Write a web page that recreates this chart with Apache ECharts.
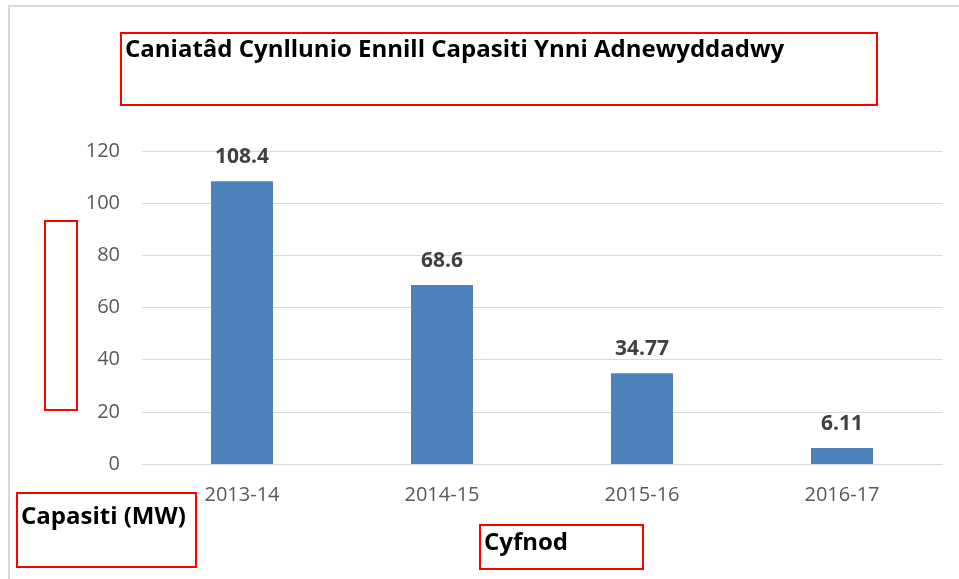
<!DOCTYPE html>
<html>
<head>
<meta charset="utf-8">
<script src="https://cdn.jsdelivr.net/npm/echarts@6/dist/echarts.min.js"></script>
<style>
  html, body { margin: 0; padding: 0; background: #fff; }
  #chart { width: 959px; height: 579px; }
</style>
</head>
<body>
<div id="chart"></div>
<script>
const periods = ['2013-14', '2014-15', '2015-16', '2016-17'];
const capacity = [108.4, 68.6, 34.77, 6.11];
const yTicks = { min: 0, max: 120, interval: 20 };

const titleText = 'Caniatâd Cynllunio Ennill Capasiti Ynni Adnewyddadwy';
const yName = 'Capasiti (MW)';
const xName = 'Cyfnod';

const chart = echarts.init(document.getElementById('chart'));

const redBox = (x, y, w, h) => ({
    type: 'rect',
    shape: { x: x, y: y, width: w, height: h },
    style: { fill: null, stroke: '#ff0000', lineWidth: 2 },
    z: 10
});

const boxText = (x, y, text) => ({
    type: 'text',
    x: x,
    y: y,
    style: {
        text: text,
        fill: '#000',
        font: 'bold 24px "Open Sans", "Noto Sans", sans-serif'
    },
    z: 11
});

const option = {
    animation: false,
    grid: {
        left: 142,
        right: 17,
        top: 151,
        bottom: 115
    },
    xAxis: {
        type: 'category',
        data: periods,
        axisLine: { lineStyle: { color: '#d9d9d9', width: 1 } },
        axisTick: { show: false },
        axisLabel: {
            color: '#595959',
            fontSize: 20,
            fontFamily: 'Open Sans, sans-serif',
            margin: 21
        }
    },
    yAxis: {
        type: 'value',
        min: yTicks.min,
        max: yTicks.max,
        interval: yTicks.interval,
        axisLine: { show: false },
        axisTick: { show: false },
        splitLine: { lineStyle: { color: '#d9d9d9', width: 1 } },
        axisLabel: {
            color: '#595959',
            fontSize: 20,
            fontFamily: 'Open Sans, sans-serif',
            margin: 22
        }
    },
    series: [
        {
            type: 'bar',
            data: capacity,
            barWidth: '31%',
            itemStyle: { color: '#4f81bd' },
            label: {
                show: true,
                position: 'top',
                distance: 14,
                color: '#404040',
                fontSize: 21,
                fontWeight: 'bold',
                fontFamily: 'Open Sans, sans-serif'
            }
        }
    ],
    graphic: [
        {
            type: 'rect',
            shape: { x: 9, y: 6, width: 960, height: 600 },
            style: { fill: null, stroke: '#d9d9d9', lineWidth: 2 },
            z: 1
        },
        redBox(121, 33, 756, 72),
        boxText(125, 38, titleText),
        redBox(45, 221, 32, 189),
        redBox(17, 493, 179, 74),
        boxText(21, 505, yName),
        redBox(480, 525, 163, 44),
        boxText(484, 531, xName)
    ]
};

option && chart.setOption(option);
</script>
</body>
</html>
